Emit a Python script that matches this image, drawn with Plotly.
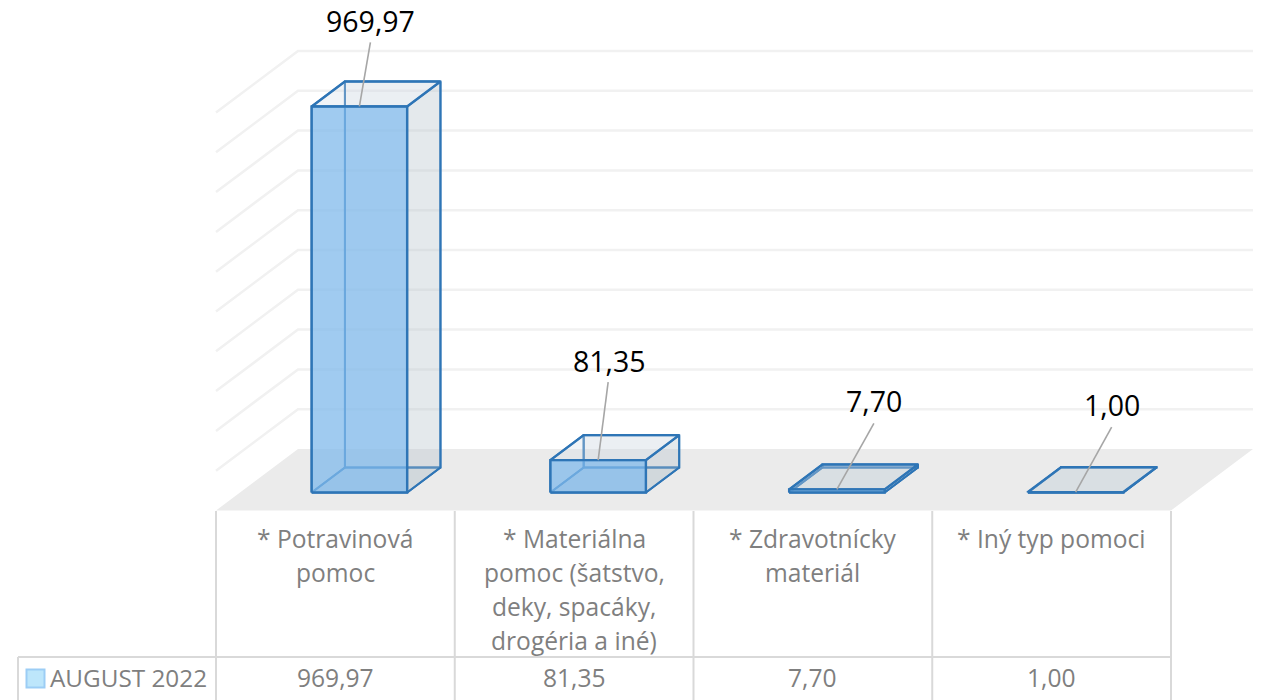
import plotly.graph_objects as go

# ---------- data ----------
CATEGORY_LINES = [
    ["* Potravinová", "pomoc"],
    ["* Materiálna", "pomoc (šatstvo,", "deky, spacáky,", "drogéria a iné)"],
    ["* Zdravotnícky", "materiál"],
    ["* Iný typ pomoci"],
]
SERIES_NAME = "AUGUST 2022"
VALUES = [969.97, 81.35, 7.70, 1.00]
VALUE_LABELS = ["969,97", "81,35", "7,70", "1,00"]
Y_TICKS = [0, 100, 200, 300, 400, 500, 600, 700, 800, 900, 1000]

# ---------- layout constants ----------
W, H = 1266, 700
PX_PER_CAT = 238.75          # one category column in pixels
PX_PER_VAL = 0.398           # one value unit in pixels
LEFT_PX, BASE_PX = 216, 449  # table left edge, back-wall baseline
DEPTH_DX = 82 / PX_PER_CAT   # oblique shift of full floor depth, in category units
DEPTH_DY = 61.5 / PX_PER_VAL # same, in value units
HALF_W = 0.2                 # half bar width in category units
D_FRONT, D_BACK = 0.293, 0.699
N = len(VALUES)
X_MIN = -0.5
X_LOW = X_MIN - LEFT_PX / PX_PER_CAT
X_HIGH = X_LOW + W / PX_PER_CAT
Y_HIGH = BASE_PX / PX_PER_VAL
Y_LOW = Y_HIGH - H / PX_PER_VAL

LINE = "#2E75B6"
GRID = "#F1F1F1"
FLOOR = "#EBEBEB"
TABLE = "#D9D9D9"
TXT = "#7F7F7F"
FONT = "Open Sans"


def proj(x, v, d):
    """Oblique projection of (category x, value v, depth d 0..1) to axis coords."""
    return x + d * DEPTH_DX, v + (d - 1) * DEPTH_DY


fig = go.Figure()


def poly(points, fill=None, color=None, width=0):
    xs, ys = zip(*[proj(*p) for p in points])
    fig.add_trace(go.Scatter(
        x=list(xs), y=list(ys), mode="lines", hoverinfo="skip", showlegend=False,
        fill="toself" if fill else None, fillcolor=fill,
        line=dict(color=color or "rgba(0,0,0,0)", width=width),
    ))


XL, XR = X_MIN, X_MIN + N

# gridlines on side and back wall
for t in Y_TICKS[1:]:
    poly([(XL, t, 0), (XL, t, 1), (XR, t, 1)], color=GRID, width=2.5)
# floor
poly([(XL, 0, 0), (XL, 0, 1), (XR, 0, 1), (XR, 0, 0), (XL, 0, 0)], fill=FLOOR)

# bars
for i, v in enumerate(VALUES):
    a, b = i - HALF_W, i + HALF_W
    f, k = D_FRONT, D_BACK
    # hidden faces & edges
    poly([(a, 0, f), (a, 0, k), (b, 0, k), (b, 0, f), (a, 0, f)],
         fill="rgba(170,185,195,0.22)", color=LINE, width=2)
    poly([(a, 0, k), (a, v, k), (b, v, k), (b, 0, k), (a, 0, k)],
         fill="rgba(190,200,210,0.12)", color=LINE, width=2)
    poly([(a, 0, f), (a, 0, k), (a, v, k), (a, v, f), (a, 0, f)], color=LINE, width=2)
    # side, top, front
    poly([(b, 0, f), (b, 0, k), (b, v, k), (b, v, f), (b, 0, f)],
         fill="rgba(187,198,205,0.30)", color=LINE, width=2)
    poly([(a, v, f), (a, v, k), (b, v, k), (b, v, f), (a, v, f)],
         fill="rgba(212,222,230,0.32)", color=LINE, width=2.4)
    poly([(a, 0, f), (a, v, f), (b, v, f), (b, 0, f), (a, 0, f)],
         fill="rgba(128,186,235,0.75)", color=LINE, width=2.4)

annotations = []

# data labels and leader lines (offsets in pixels from the bar's top front centre)
LABEL_OFFSETS = [(11, -85), (11, -99), (37, -88), (36, -87)]
LEADER_OFFSETS = [(11, -64), (10, -78), (37, -66), (36, -65)]
for i, (v, lab, off, lead) in enumerate(zip(VALUES, VALUE_LABELS, LABEL_OFFSETS, LEADER_OFFSETS)):
    x, y = proj(i, v, D_FRONT)
    fig.add_trace(go.Scatter(
        x=[x, x + lead[0] / PX_PER_CAT], y=[y, y - lead[1] / PX_PER_VAL],
        mode="lines", hoverinfo="skip", showlegend=False,
        line=dict(color="#A6A6A6", width=1.6),
    ))
    annotations.append(dict(
        x=x + off[0] / PX_PER_CAT, y=y - off[1] / PX_PER_VAL, xref="x", yref="y",
        text=lab, showarrow=False, xanchor="center", yanchor="middle",
        font=dict(family=FONT, size=28.5, color="#000000"),
    ))


def paper_y(px):
    return 1 - px / H


# table text
LINE_TOPS = [538.5, 572.5, 606.5, 640.5]
for i, lines in enumerate(CATEGORY_LINES):
    for line, py in zip(lines, LINE_TOPS):
        annotations.append(dict(
            x=i, y=paper_y(py), xref="x", yref="paper", text=line, showarrow=False,
            xanchor="center", yanchor="middle",
            font=dict(family=FONT, size=24.6, color=TXT),
        ))
for i, lab in enumerate(VALUE_LABELS):
    annotations.append(dict(
        x=i, y=paper_y(677.5), xref="x", yref="paper", text=lab, showarrow=False,
        xanchor="center", yanchor="middle",
        font=dict(family=FONT, size=24.6, color=TXT),
    ))
annotations.append(dict(
    x=48 / W, y=paper_y(677.5), xref="paper", yref="paper", text=SERIES_NAME,
    showarrow=False, xanchor="left", yanchor="middle",
    font=dict(family=FONT, size=24.3, color=TXT),
))

# table lines
shapes = []
for i in range(N + 1):
    shapes.append(dict(type="line", xref="x", yref="paper", x0=X_MIN + i, x1=X_MIN + i,
                       y0=paper_y(511), y1=paper_y(700),
                       line=dict(color=TABLE, width=2)))
shapes.append(dict(type="line", xref="paper", yref="paper", x0=18 / W, x1=1171 / W,
                   y0=paper_y(657), y1=paper_y(657), line=dict(color=TABLE, width=2)))
shapes.append(dict(type="line", xref="paper", yref="paper", x0=18 / W, x1=18 / W,
                   y0=paper_y(657), y1=paper_y(700), line=dict(color=TABLE, width=2)))
# legend key
shapes.append(dict(type="rect", xref="paper", yref="paper", x0=26.5 / W, x1=44.5 / W,
                   y0=paper_y(669.5), y1=paper_y(687.5), fillcolor="#BDE6FB",
                   line=dict(color="#9CCDF5", width=2)))

fig.update_layout(
    width=W, height=H, margin=dict(l=0, r=0, t=0, b=0, pad=0),
    paper_bgcolor="white", plot_bgcolor="white", showlegend=False,
    xaxis=dict(range=[X_LOW, X_HIGH], visible=False, fixedrange=True),
    yaxis=dict(range=[Y_LOW, Y_HIGH], visible=False, fixedrange=True),
    annotations=annotations, shapes=shapes,
)

fig.write_html("out.html", config={"displayModeBar": False},
               post_script="document.body.style.margin='0';document.body.style.overflow='hidden';")
